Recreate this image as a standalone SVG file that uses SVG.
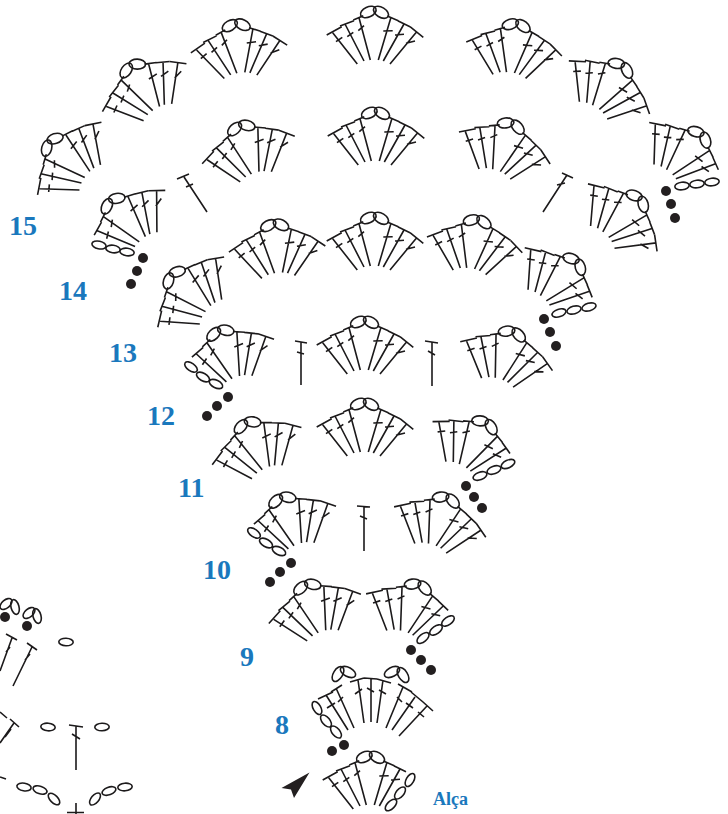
<svg xmlns="http://www.w3.org/2000/svg" width="728" height="814" viewBox="0 0 728 814">
<style>
.s{fill:none;stroke:#1c1a1b;stroke-width:1.6}
.o{fill:none;stroke:#1c1a1b;stroke-width:1.6}
.d{fill:#231f20;stroke:none}
.n{font-family:"Liberation Serif","Times New Roman",serif;font-weight:bold;fill:#1a78bd;font-size:28px}
.a{font-size:18px}
</style>
<defs>
<path id="lo" class="s" d="M-48.3 23L-33.3 14.7M-42.3 20.7L-17.7 52M-39 29.7L-32.7 25.3"/>
<path id="l2" class="s" d="M-35 14L-21 8.7M-30 12L-11 49M-27.7 24.7L-21.7 20.3M-21.7 8L-11.7 3.7M-16 5.7L-4.7 48M-16.7 18.7L-11 13.7"/>
<path id="r2" class="s" d="M12.3 4L23.3 8.7M15.7 6.3L3.3 48M8.3 19L17.7 18.7M22.7 8.7L35 14.7M29 12L8.3 49M20 23L29 22.3"/>
<path id="ro" class="s" d="M35 14.7L48.3 25.3M41.7 19.7L15 52M31 31.3L40 29"/>
<g id="ov"><ellipse class="o" cx="-6.7" cy="0" rx="8.3" ry="5" transform="rotate(-25 -6.7 0)"/><ellipse class="o" cx="6" cy="0.3" rx="8.3" ry="5" transform="rotate(32 6 0.3)"/></g>
<g id="fan"><use href="#lo"/><use href="#l2"/><use href="#r2"/><use href="#ro"/><use href="#ov"/></g>
<g id="fanL"><use href="#l2"/><use href="#r2"/><use href="#ro"/><use href="#ov"/></g>
<g id="fanR"><use href="#lo"/><use href="#l2"/><use href="#r2"/><use href="#ov"/></g>
<ellipse id="c" class="o" cx="0" cy="0" rx="7.2" ry="3.8"/>
<circle id="dot" class="d" cx="0" cy="0" r="5"/>
</defs>

<g id="row15">
<use id="r15a" href="#fan" transform="translate(51 143) rotate(-50)"/>
<use id="r15b" href="#fan" transform="translate(132 67) rotate(-31)"/>
<use id="r15c" href="#fan" transform="translate(236.5 25) rotate(-6)"/>
<use id="r15d" href="#fan" transform="translate(375 12)"/>
<use id="r15e" href="#fan" transform="translate(517 25) rotate(7)"/>
<use id="r15f" href="#fan" transform="translate(622 67) rotate(32)"/>
<use id="r15g" href="#fanR" transform="translate(701 136) rotate(40)"/>
<g id="r15chain"><use href="#c" transform="translate(682 186) rotate(-7)"/><use href="#c" transform="translate(697 184) rotate(-7)"/><use href="#c" transform="translate(712 182) rotate(-7)"/>
<use href="#dot" x="666" y="191"/><use href="#dot" x="671" y="204"/><use href="#dot" x="675" y="218"/></g>
</g>

<g id="row14">
<use id="r14a" href="#fanL" transform="translate(112 202) rotate(-40)"/>
<g id="r14chain"><use href="#c" transform="translate(99 245) rotate(12)"/><use href="#c" transform="translate(113 249) rotate(8)"/><use href="#c" transform="translate(127 252) rotate(8)"/>
<use href="#dot" x="143" y="258"/><use href="#dot" x="137" y="271"/><use href="#dot" x="131" y="284"/></g>
<path id="r14l1" class="s" d="M177 179L189 174M184 177L207 212M186 187L193 184"/>
<use id="r14b" href="#fan" transform="translate(241 127) rotate(-18)"/>
<use id="r14c" href="#fan" transform="translate(376 113)"/>
<use id="r14d" href="#fan" transform="translate(512 125) rotate(18)"/>
<path id="r14l2" class="s" d="M562 173L573 178M567 175L543 212M557 185L565 183"/>
<use id="r14e" href="#fan" transform="translate(639 200) rotate(43)"/>
</g>

<g id="row13">
<use id="r13a" href="#fan" transform="translate(173 276) rotate(-48)"/>
<use id="r13b" href="#fan" transform="translate(275 225) rotate(-5)"/>
<use id="r13c" href="#fan" transform="translate(375 218)"/>
<use id="r13d" href="#fan" transform="translate(478 221) rotate(8)"/>
<use id="r13e" href="#fanR" transform="translate(576 263) rotate(42)"/>
<g id="r13chain"><use href="#c" transform="translate(559 313) rotate(-18)"/><use href="#c" transform="translate(574 310) rotate(-15)"/><use href="#c" transform="translate(589 307) rotate(-15)"/>
<use href="#dot" x="544" y="319"/><use href="#dot" x="550" y="332"/><use href="#dot" x="556" y="346"/></g>
</g>

<g id="row12">
<use id="r12a" href="#fanL" transform="translate(220 332) rotate(-20)"/>
<g id="r12chain"><use href="#c" transform="translate(191 367) rotate(35)"/><use href="#c" transform="translate(203 377) rotate(30)"/><use href="#c" transform="translate(216 384) rotate(25)"/>
<use href="#dot" x="228" y="397"/><use href="#dot" x="217" y="406"/><use href="#dot" x="207" y="416"/></g>
<path id="r12l1" class="s" d="M295 341L307 343M301 342V385M297 352L304 354"/>
<use id="r12b" href="#fan" transform="translate(365 322)"/>
<path id="r12l2" class="s" d="M425 341L438 343M432 342V386M428 351L435 355"/>
<use id="r12c" href="#fan" transform="translate(513 333) rotate(16)"/>
</g>

<g id="row11">
<use id="r11a" href="#fan" transform="translate(247 424) rotate(-24)"/>
<use id="r11b" href="#fan" transform="translate(365 404)"/>
<use id="r11c" href="#fanR" transform="translate(486 424) rotate(28)"/>
<g id="r11chain"><use href="#c" transform="translate(480 476) rotate(-20)"/><use href="#c" transform="translate(494 470) rotate(-20)"/><use href="#c" transform="translate(508 464) rotate(-25)"/>
<use href="#dot" x="466" y="486"/><use href="#dot" x="474" y="497"/><use href="#dot" x="482" y="508"/></g>
</g>

<g id="row10">
<use id="r10a" href="#fanL" transform="translate(282 499) rotate(-20)"/>
<g id="r10chain"><use href="#c" transform="translate(254 533) rotate(35)"/><use href="#c" transform="translate(266 543) rotate(30)"/><use href="#c" transform="translate(279 551) rotate(25)"/>
<use href="#dot" x="291" y="563"/><use href="#dot" x="280" y="572"/><use href="#dot" x="270" y="582"/></g>
<path id="r10l" class="s" d="M357 506L370 507M364 507V551M360 516L367 519"/>
<use id="r10b" href="#fan" transform="translate(447 499) rotate(17)"/>
</g>

<g id="row9">
<use id="r9a" href="#fan" transform="translate(307 586) rotate(-19)"/>
<use id="r9b" href="#fanR" transform="translate(419 586) rotate(17)"/>
<g id="r9chain"><use href="#c" transform="translate(423 638) rotate(-40)"/><use href="#c" transform="translate(436 630) rotate(-35)"/><use href="#c" transform="translate(448 621) rotate(-35)"/>
<use href="#dot" x="411" y="650"/><use href="#dot" x="421" y="660"/><use href="#dot" x="431" y="670"/></g>
</g>

<g id="row8">
<path class="s" d="M318 699L333 692M326 695L348 730M327 708L335 703M331 692L342 685M336 688L354 728M338 702L343 697M350 682L364 678M358 680L364 723M355 694L362 689M364 678L377 679M371 678V722M367 688L374 692M377 679L391 683M383 680L377 723M379 690L386 694M398 684L412 692M403 687L386 728M397 697L402 702M411 692L423 702M415 697L392 730M406 703L413 708M423 702L433 711M427 706L399 736M418 712L424 717"/>
<ellipse class="o" cx="338" cy="674" rx="8.3" ry="4.6" transform="rotate(-58 338 674)"/><ellipse class="o" cx="348" cy="672" rx="8.3" ry="4.6" transform="rotate(28 348 672)"/>
<ellipse class="o" cx="392" cy="672" rx="8.3" ry="4.6" transform="rotate(-28 392 672)"/><ellipse class="o" cx="403" cy="675" rx="8.3" ry="4.6" transform="rotate(58 403 675)"/>
<use href="#c" transform="translate(317 708) rotate(60)"/><use href="#c" transform="translate(326 721) rotate(50)"/><use href="#c" transform="translate(336 732) rotate(50)"/>
<use href="#dot" x="332" y="751"/><use href="#dot" x="344" y="745"/>
</g>

<g id="alca">
<use href="#fanR" transform="translate(371 757)"/>
<use href="#c" transform="translate(410 780) rotate(-60)"/><use href="#c" transform="translate(400 793) rotate(-50)"/><use href="#c" transform="translate(391 805) rotate(-45)"/>
</g>
<polygon id="arrow" class="d" points="309.5,772.5 281.5,788 291,789.5 294,798"/>

<g id="partial">
<ellipse class="o" cx="6" cy="604" rx="7" ry="4" transform="rotate(-40 6 604)"/><ellipse class="o" cx="15" cy="607" rx="7.5" ry="4" transform="rotate(75 15 607)"/>
<ellipse class="o" cx="29" cy="613" rx="7" ry="4" transform="rotate(-40 29 613)"/><ellipse class="o" cx="37" cy="616" rx="7.5" ry="4" transform="rotate(75 37 616)"/>
<use href="#dot" x="5" y="617"/><use href="#dot" x="27" y="626"/>
<path class="s" d="M6 634L17 640M12 638L0 671M6 652L10 647M27 643L37 650M32 647L13 686M25 660L30 654"/>
<use href="#c" transform="translate(66 642) rotate(2)"/>
<path class="s" d="M0 712L7 718M10 719L19 727M14 723L0 743M5 737L11 729M0 777L6 779"/>
<use href="#c" transform="translate(48 727) rotate(5)"/><use href="#c" transform="translate(102 727) rotate(-2)"/>
<path class="s" d="M69 725L83 727M76 726V770M72 734L80 739"/>
<use href="#c" transform="translate(24 787) rotate(10)"/><use href="#c" transform="translate(40 790) rotate(18)"/><use href="#c" transform="translate(54 799) rotate(45)"/>
<use href="#c" transform="translate(95 799) rotate(-50)"/><use href="#c" transform="translate(109 791) rotate(-20)"/><use href="#c" transform="translate(125 787) rotate(-5)"/>
<path class="s" d="M76 803V814M67 812.5H84"/>
</g>

<g id="labels">
<text class="n" x="9" y="235">15</text>
<text class="n" x="59" y="300">14</text>
<text class="n" x="109" y="362">13</text>
<text class="n" x="147" y="425">12</text>
<text class="n" x="178" y="497">11</text>
<text class="n" x="203" y="579">10</text>
<text class="n" x="240" y="666">9</text>
<text class="n" x="275" y="734">8</text>
<text class="n a" x="433" y="805">Alça</text>
</g>
</svg>
